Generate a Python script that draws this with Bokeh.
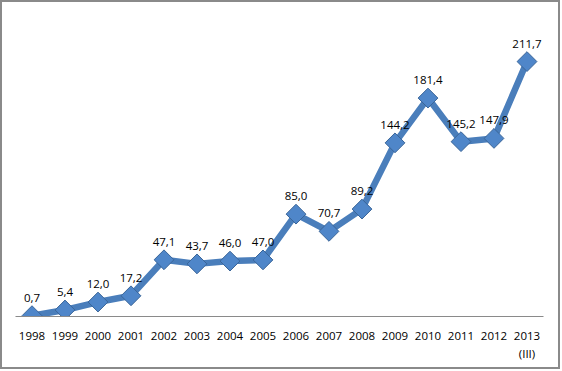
import math
from bokeh.plotting import figure
from bokeh.models import FixedTicker, Range1d, ColumnDataSource
from bokeh.core.properties import value
from bokeh.embed import file_html
from bokeh.resources import INLINE

years = ["1998", "1999", "2000", "2001", "2002", "2003", "2004", "2005",
         "2006", "2007", "2008", "2009", "2010", "2011", "2012", "2013\n(III)"]
values = [0.7, 5.4, 12.0, 17.2, 47.1, 43.7, 46.0, 47.0,
          85.0, 70.7, 89.2, 144.2, 181.4, 145.2, 147.9, 211.7]
labels = ["0,7", "5,4", "12,0", "17,2", "47,1", "43,7", "46,0", "47,0",
          "85,0", "70,7", "89,2", "144,2", "181,4", "145,2", "147,9", "211,7"]

xs = list(range(len(years)))
src = ColumnDataSource(dict(x=xs, y=values, lab=labels))

p = figure(frame_width=528, frame_height=289, output_backend="svg", toolbar_location=None,
           x_range=Range1d(-0.5, 15.5), y_range=Range1d(0, 240),
           min_border_left=13, min_border_right=15, min_border_top=25, min_border_bottom=51)
p.styles = {"border": "2px solid #8a8a8a"}
p.outline_line_color = None
p.xgrid.visible = False
p.ygrid.visible = False
p.yaxis.visible = False

ax = p.xaxis[0]
ax.ticker = FixedTicker(ticks=xs)
ax.major_label_overrides = {i: years[i] for i in xs}
ax.major_tick_line_color = None
ax.minor_tick_line_color = None
ax.axis_line_color = "#8a8a8a"
ax.axis_line_width = 1
ax.major_label_standoff = 5
ax.major_label_text_font = "Open Sans"
ax.major_label_text_font_size = "11.5px"
ax.major_label_text_color = "#000000"

p.line("x", "y", source=src, line_color="#4A7EBB", line_width=6.5)
p.scatter("x", "y", source=src, marker="square", size=14, angle=math.pi / 4,
          fill_color="#4F86C9", line_color="#3A6598", line_width=1)
p.text("x", "y", text="lab", source=src, y_offset=-14,
       text_align="center", text_baseline="bottom",
       text_font=value("Open Sans"), text_font_size="11.5px", text_color="#000000")

open("out.html", "w").write(file_html(p, INLINE))
